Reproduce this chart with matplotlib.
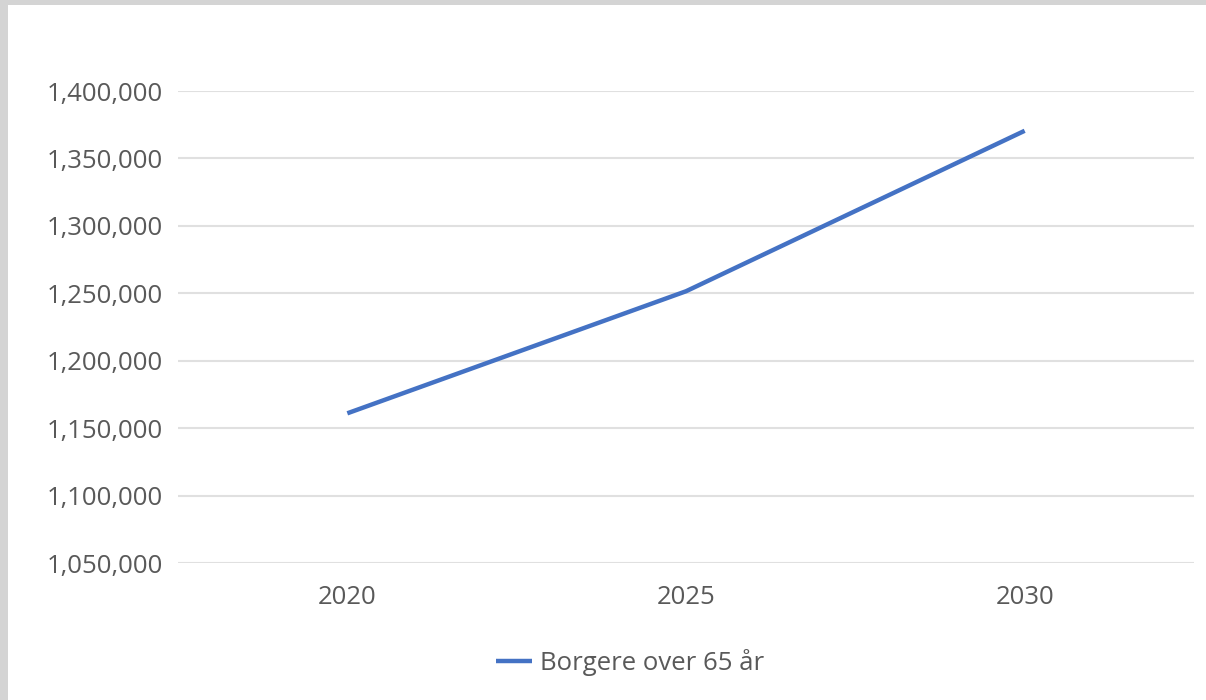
import matplotlib.pyplot as plt
from matplotlib.patches import Rectangle
from matplotlib.ticker import FuncFormatter

years = ['2020', '2025', '2030']
borgere = [1161000, 1251500, 1370500]
series_name = 'Borgere over 65 år'
y_ticks = [1050000, 1100000, 1150000, 1200000, 1250000, 1300000, 1350000, 1400000]

plt.rcParams['font.family'] = ['Open Sans', 'DejaVu Sans']

fig = plt.figure(figsize=(12.06, 7), dpi=100, facecolor='white')
# grey screenshot edge on the left and top
fig.patches.append(Rectangle((0, 0), 8 / 1206, 1, transform=fig.transFigure,
                             facecolor='#d4d4d4', edgecolor='none'))
fig.patches.append(Rectangle((0, 695 / 700), 1, 5 / 700, transform=fig.transFigure,
                             facecolor='#d4d4d4', edgecolor='none'))

ax = fig.add_axes([178 / 1206, (700 - 563) / 700, (1194 - 178) / 1206, (563 - 91) / 700])
ax.set_facecolor('none')

x = list(range(len(years)))
ax.plot(x, borgere, color='#4472C4', linewidth=3.2, solid_capstyle='butt', label=series_name)

ax.set_xlim(-0.5, len(years) - 0.5)
ax.set_ylim(y_ticks[0], y_ticks[-1])
ax.set_xticks(x)
ax.set_xticklabels(years)
ax.set_yticks(y_ticks)
ax.yaxis.set_major_formatter(FuncFormatter(lambda v, p: f'{int(v):,}'))

ax.grid(axis='y', color='#e0e0e0', linewidth=1.5)
ax.set_axisbelow(True)
for s in ax.spines.values():
    s.set_visible(False)
ax.tick_params(length=0, labelsize=18.5, colors='#595959')
ax.tick_params(axis='y', pad=10.5)
ax.tick_params(axis='x', pad=16)

fig.legend(loc='center', bbox_to_anchor=(630 / 1206, (700 - 662) / 700), frameon=False,
           fontsize=18.5, labelcolor='#595959', handlelength=1.4, handletextpad=0.3)

fig.savefig('out.png', dpi=100, facecolor=fig.get_facecolor())
